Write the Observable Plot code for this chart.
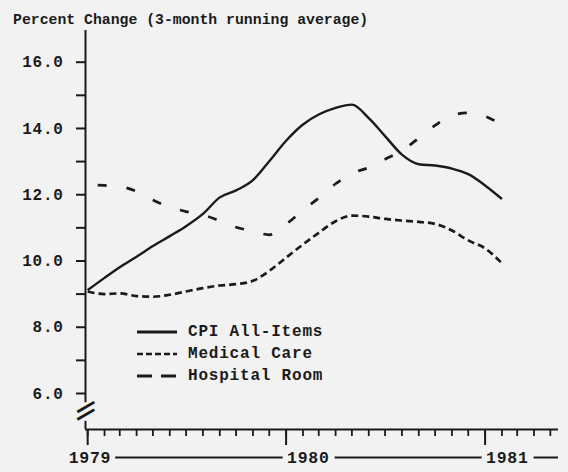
<!DOCTYPE html>
<html><head><meta charset="utf-8">
<script src="https://cdn.jsdelivr.net/npm/d3@7"></script>
<script src="https://cdn.jsdelivr.net/npm/@observablehq/plot@0.6"></script>
<style>
html,body{margin:0;padding:0;background:#f2f2f2;}
#wrap{position:relative;width:568px;height:472px;font-family:"Liberation Mono","DejaVu Sans Mono",monospace;font-weight:bold;color:#1a1a1a;}
#wrap svg{position:absolute;left:0;top:0;}
#wrap svg text{letter-spacing:0.7px;}
#title{position:absolute;left:13px;top:13px;font-size:14.8px;line-height:1;white-space:pre;}
#legend{position:absolute;left:137px;top:321px;font-size:16px;letter-spacing:0.8px;}
.row{display:flex;align-items:center;height:22px;white-space:pre;}
.row svg{position:static !important;margin-right:11px;}
</style></head><body>
<div id="wrap"><div id="chart"></div><div id="title"></div><div id="legend"></div></div>
<script>
const titleText = "Percent Change (3-month running average)";
const months = ["1979-01","1979-02","1979-03","1979-04","1979-05","1979-06","1979-07","1979-08","1979-09","1979-10","1979-11","1979-12",
  "1980-01","1980-02","1980-03","1980-04","1980-05","1980-06","1980-07","1980-08","1980-09","1980-10","1980-11","1980-12",
  "1981-01","1981-02"];
const seriesNames = ["CPI All-Items", "Medical Care", "Hospital Room"];
const cpi      = [9.12, 9.49, 9.81, 10.13, 10.45, 10.75, 11.05, 11.42, 11.92, 12.13, 12.44, 13.01, 13.63, 14.12, 14.42, 14.62, 14.72, 14.31, 13.77, 13.21, 12.92, 12.88, 12.79, 12.62, 12.28, 11.87];
const medical  = [9.08, 9.00, 9.02, 8.94, 8.92, 8.98, 9.08, 9.18, 9.26, 9.30, 9.40, 9.70, 10.10, 10.50, 10.85, 11.20, 11.37, 11.34, 11.27, 11.22, 11.18, 11.12, 10.92, 10.62, 10.38, 9.93];
const hospital = [12.30, 12.28, 12.25, 12.10, 11.84, 11.63, 11.49, 11.39, 11.21, 11.02, 10.90, 10.79, 11.11, 11.53, 11.90, 12.33, 12.64, 12.82, 13.07, 13.33, 13.71, 14.09, 14.40, 14.47, 14.37, 14.10];
const yTickValues = [6, 8, 10, 12, 14, 16];
const yMinorTicks = [7, 9, 11, 13, 15];
const yearLabels = ["1979", "1980", "1981"];

const ink = "#1a1a1a";
const parseMonth = d3.utcParse("%Y-%m");
const parseYear = d3.utcParse("%Y");
const xDomain = [new Date(Date.UTC(1978, 11, 28)), new Date(Date.UTC(1981, 4, 16))];
const yDomain = [4.913, 16.957];
const axisSegments = [[5.72, yDomain[1]], [yDomain[0], 5.16]];
const breakMarks = [5.62, 5.40];

const styles = [
  {name: seriesNames[0], values: cpi, dash: null, width: 2.4, legendWidth: 3.2, legendDash: null},
  {name: seriesNames[1], values: medical, dash: "7,4", width: 2.7, legendWidth: 2.6, legendDash: "6,3"},
  {name: seriesNames[2], values: hospital, dash: "9,20", width: 2.7, legendWidth: 2.8, legendDash: "15,9", offset: -10}
];
const series = styles.map(s => ({...s, data: months.map((m, i) => ({date: parseMonth(m), value: s.values[i], series: s.name}))}));

const chart = Plot.plot({
  width: 568, height: 472,
  marginTop: 30, marginBottom: 43, marginLeft: 85, marginRight: 10,
  x: {type: "utc", domain: xDomain, label: null},
  y: {domain: yDomain, label: null},
  style: {background: "transparent", color: ink, fontFamily: "'Liberation Mono','DejaVu Sans Mono',monospace", fontWeight: "bold", overflow: "visible"},
  marks: [
    Plot.axisY(yTickValues, {anchor: "left", tickSize: 9, tickPadding: 13, tickFormat: d3.format(".1f"), fontSize: 16, strokeWidth: 2, label: null}),
    Plot.axisY(yMinorTicks, {anchor: "left", tickSize: 9, tickFormat: () => "", strokeWidth: 2, label: null}),
    Plot.axisX({ticks: d3.utcMonth.every(1), anchor: "bottom", tickSize: 7, tickFormat: () => "", strokeWidth: 1.8, label: null}),
    Plot.axisX({ticks: d3.utcYear.every(1), anchor: "bottom", tickSize: 16, tickFormat: () => "", strokeWidth: 2, label: null}),
    Plot.ruleX(axisSegments, {x: () => xDomain[0], y1: d => d[0], y2: d => d[1], stroke: ink, strokeWidth: 2}),
    Plot.text(breakMarks, {x: () => xDomain[0], y: d => d, text: () => "—", rotate: -30, fontSize: 22, fontFamily: "DejaVu Sans", fontWeight: "bold", fill: ink}),
    Plot.ruleY([yDomain[0]], {stroke: ink, strokeWidth: 2}),
    ...series.map(s => Plot.line(s.data, {x: "date", y: "value", stroke: ink, strokeWidth: s.width, strokeDasharray: s.dash, strokeDashoffset: s.offset || 0, curve: "monotone-x", strokeLinecap: "butt"})),
    Plot.text(yearLabels.slice(0, 1), {x: d => parseYear(d), y: yDomain[0], dy: 28, dx: -19, textAnchor: "start", fontSize: 16.5, fill: ink}),
    Plot.text(yearLabels.slice(1), {x: d => parseYear(d), y: yDomain[0], dy: 28, dx: 1, textAnchor: "start", fontSize: 16.5, fill: ink}),
    Plot.ruleY([[yearLabels[0], yearLabels[1]]], {x1: d => parseYear(d[0]), x2: d => parseYear(d[1]), y: yDomain[0], dy: 28, insetLeft: 28, insetRight: 3, stroke: ink, strokeWidth: 2}),
    Plot.ruleY([[yearLabels[1], yearLabels[2]]], {x1: d => parseYear(d[0]), x2: d => parseYear(d[1]), y: yDomain[0], dy: 28, insetLeft: 49, insetRight: 3, stroke: ink, strokeWidth: 2}),
    Plot.ruleY([[yearLabels[2], null]], {x1: d => parseYear(d[0]), x2: () => xDomain[1], y: yDomain[0], dy: 28, insetLeft: 49, insetRight: 0, stroke: ink, strokeWidth: 2})
  ]
});
document.getElementById("chart").appendChild(chart);
document.getElementById("title").textContent = titleText;

const legend = document.getElementById("legend");
styles.forEach(s => {
  const row = document.createElement("div");
  row.className = "row";
  const svg = d3.create("svg").attr("width", 40).attr("height", 6);
  svg.append("line").attr("x1", 0).attr("x2", 40).attr("y1", 3).attr("y2", 3)
    .attr("stroke", ink).attr("stroke-width", s.legendWidth).attr("stroke-dasharray", s.legendDash);
  row.appendChild(svg.node());
  const span = document.createElement("span");
  span.textContent = s.name;
  row.appendChild(span);
  legend.appendChild(row);
});
</script>
</body></html>
